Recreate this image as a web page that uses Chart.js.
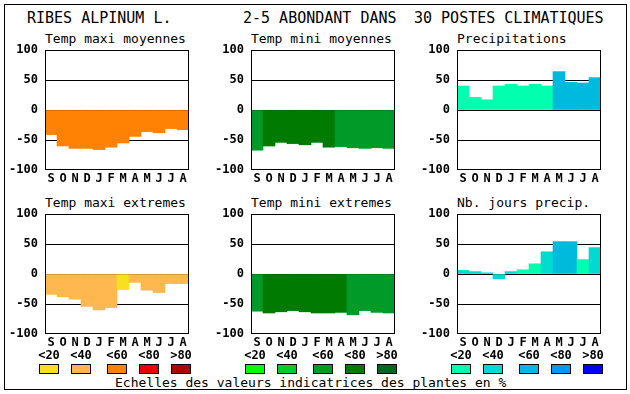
<!DOCTYPE html>
<html>
<head>
<meta charset="utf-8">
<script src="https://cdn.jsdelivr.net/npm/chart.js"></script>
<style>
  body { margin: 0; background: #fff; }
  #page { position: relative; width: 630px; height: 394px; overflow: hidden;
          font-family: 'DejaVu Sans Mono', monospace; color: #000; }
  #frame { position: absolute; left: 4px; top: 4px; width: 623px; height: 386px;
           box-sizing: border-box; border: 1px solid #000; }
  .txt { position: absolute; white-space: pre; }
  .title { font-size: 15px; line-height: 15px; top: 11px; }
  .sub { font-size: 13px; line-height: 13px; }
  .cls { font-size: 12px; line-height: 12px; font-weight: bold; width: 40px; text-align: center; top: 349px; }
  .box { position: absolute; top: 364px; width: 20px; height: 10px; box-sizing: border-box; border: 1px solid #000; }
  canvas { position: absolute; }
</style>
</head>
<body>
<div id="page">
  <div id="frame"></div>
  <div class="txt title" style="left:27px">RIBES ALPINUM L.</div>
  <div class="txt title" style="left:243px">2-5 ABONDANT DANS</div>
  <div class="txt title" style="left:414px">30 POSTES CLIMATIQUES</div>
  <div class="txt sub" style="left:115px;top:376px">Echelles des valeurs indicatrices des plantes en %</div>
</div>
<script>
// mois (septembre -> août)
const months = ['S', 'O', 'N', 'D', 'J', 'F', 'M', 'A', 'M', 'J', 'J', 'A'];
const yTicks = [100, 50, 0, -50, -100];
const classLabels = ['<20', '<40', '<60', '<80', '>80'];

// palettes des classes
const warmColors = ['#F8E01C', '#FFB850', '#FF8204', '#E80004', '#AC0800'];
const greenColors = ['#00FF00', '#00CA30', '#009A28', '#007A00', '#006620'];
const blueColors = ['#00FFAE', '#00DAD0', '#00BADE', '#009AEA', '#0000FF'];

// valeurs
const tempMaxiMoy = [-41, -60, -64, -64, -66, -62, -55, -44, -36, -38, -31, -33];
const tempMaxiMoyClass = [2, 2, 2, 2, 2, 2, 2, 2, 2, 2, 2, 2];

const tempMiniMoy = [-67, -60, -54, -56, -58, -54, -62, -61, -63, -64, -63, -64];
const tempMiniMoyClass = [2, 3, 3, 3, 3, 3, 3, 2, 2, 2, 2, 2];

const precip = [40, 21, 17, 40, 43, 40, 43, 40, 64, 46, 45, 54];
const precipClass = [0, 0, 0, 0, 0, 0, 0, 0, 2, 2, 2, 2];

const tempMaxiExt = [-34, -38, -42, -54, -60, -56, -26, -14, -27, -31, -16, -16];
const tempMaxiExtClass = [1, 1, 1, 1, 1, 1, 0, 1, 1, 1, 1, 1];

const tempMiniExt = [-62, -65, -63, -61, -63, -65, -65, -64, -68, -61, -64, -65];
const tempMiniExtClass = [2, 3, 3, 3, 3, 3, 3, 3, 2, 2, 2, 2];

const joursPrecip = [6, 4, 2, -8, 4, 7, 17, 37, 54, 54, 24, 44];
const joursPrecipClass = [1, 1, 1, 1, 1, 0, 0, 1, 2, 2, 0, 1];

const panels = [
  { title: 'Temp maxi moyennes', x: 45, y: 50, values: tempMaxiMoy, cls: tempMaxiMoyClass, palette: warmColors },
  { title: 'Temp mini moyennes', x: 251, y: 50, values: tempMiniMoy, cls: tempMiniMoyClass, palette: greenColors },
  { title: 'Precipitations', x: 457, y: 50, values: precip, cls: precipClass, palette: blueColors },
  { title: 'Temp maxi extremes', x: 45, y: 214, values: tempMaxiExt, cls: tempMaxiExtClass, palette: warmColors },
  { title: 'Temp mini extremes', x: 251, y: 214, values: tempMiniExt, cls: tempMiniExtClass, palette: greenColors },
  { title: 'Nb. jours precip.', x: 457, y: 214, values: joursPrecip, cls: joursPrecipClass, palette: blueColors }
];

const page = document.getElementById('page');
const tickFont = { family: "'DejaVu Sans Mono', monospace", size: 12, weight: 'bold' };

// cadre noir autour de la zone de tracé
const framePlugin = {
  id: 'plotFrame',
  afterDraw(chart) {
    const a = chart.chartArea;
    const c = chart.ctx;
    c.save();
    c.strokeStyle = '#000';
    c.lineWidth = 1;
    c.strokeRect(Math.round(a.left) + 0.5, Math.round(a.top) + 0.5,
                 Math.round(a.right - a.left) - 1, Math.round(a.bottom - a.top) - 1);
    c.restore();
  }
};

panels.forEach(p => {
  // sous-titre
  const t = document.createElement('div');
  t.className = 'txt sub';
  t.style.left = p.x + 'px';
  t.style.top = (p.y - 18) + 'px';
  t.textContent = p.title;
  page.appendChild(t);

  // zone de tracé : 144 x 120 px à (p.x, p.y)
  const canvas = document.createElement('canvas');
  canvas.width = 195;
  canvas.height = 156;
  canvas.style.left = (p.x - 45) + 'px';
  canvas.style.top = (p.y - 16) + 'px';
  page.appendChild(canvas);

  new Chart(canvas, {
    type: 'bar',
    data: {
      labels: months,
      datasets: [{
        data: p.values,
        backgroundColor: p.cls.map(k => p.palette[k]),
        borderWidth: 0,
        barPercentage: 1,
        categoryPercentage: 1
      }]
    },
    options: {
      responsive: false,
      animation: false,
      events: [],
      layout: { padding: { top: 16, right: 6, left: 0, bottom: 0 } },
      plugins: { legend: { display: false }, tooltip: { enabled: false } },
      scales: {
        x: {
          grid: { display: false, drawTicks: false },
          border: { display: false },
          ticks: { color: '#000', font: tickFont, padding: 2, maxRotation: 0, autoSkip: false },
          afterFit(scale) { scale.height = 20; }
        },
        y: {
          min: -100,
          max: 100,
          z: 1,
          afterBuildTicks(scale) { scale.ticks = yTicks.map(v => ({ value: v })); },
          grid: {
            drawTicks: false,
            lineWidth: 1,
            color: ctx => (Math.abs(ctx.tick.value) === 100 ? 'rgba(0,0,0,0)' : '#000')
          },
          border: { display: false },
          ticks: { color: '#000', font: tickFont, padding: 7 },
          afterFit(scale) { scale.width = 45; }
        }
      }
    },
    plugins: [framePlugin]
  });

  // légende des classes sous les graphes du bas
  if (p.y > 100) {
    classLabels.forEach((lab, i) => {
      const off = [-6, 26, 62, 94, 126][i];
      const l = document.createElement('div');
      l.className = 'txt cls';
      l.style.left = (p.x + off - 10) + 'px';
      l.textContent = lab;
      page.appendChild(l);
      const b = document.createElement('div');
      b.className = 'box';
      b.style.left = (p.x + off) + 'px';
      b.style.background = p.palette[i];
      page.appendChild(b);
    });
  }
});
</script>
</body>
</html>
